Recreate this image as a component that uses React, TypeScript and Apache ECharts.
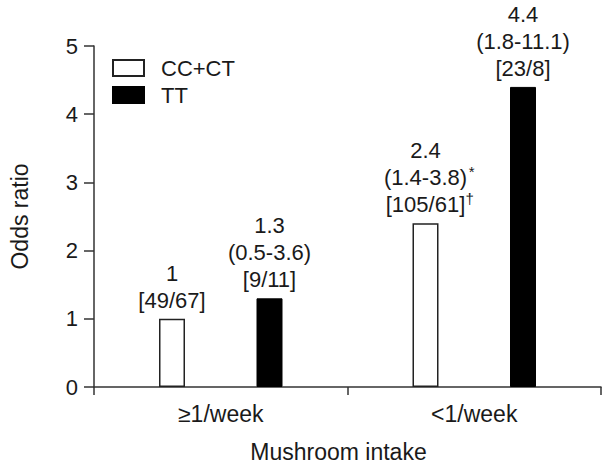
import React, { useEffect, useRef } from "react";
import * as echarts from "echarts";

// Mushroom intake categories and genotype groups
const categories = ["≥1/week", "<1/week"];
const seriesNames = ["CC+CT", "TT"];

// Odds ratios per genotype, one value per intake category
const oddsCCCT = [1, 2.4];
const oddsTT = [1.3, 4.4];

// 95% confidence intervals ("" for the reference group)
const ciCCCT = ["", "1.4-3.8"];
const ciTT = ["0.5-3.6", "1.8-11.1"];

// Case/control counts
const countsCCCT = ["49/67", "105/61"];
const countsTT = ["9/11", "23/8"];

// Footnote marks attached to the CI line and to the counts line
const ciMarkCCCT = ["", "*"];
const countMarkCCCT = ["", "†"];

const FONT = "'Liberation Sans', Arial, Helvetica, sans-serif";

function buildLabel(value: number, ci: string, count: string, ciMark = "", countMark = "") {
  const lines: string[] = [];
  lines.push(`{v|${value}}`);
  if (ci) {
    lines.push(ciMark ? `{pad| }{v|(${ci})}{sup|${ciMark}}` : `{v|(${ci})}`);
  }
  lines.push(countMark ? `{pad| }{v|[${count}]}{sup|${countMark}}` : `{v|[${count}]}`);
  return lines.join("\n");
}

export default function App() {
  const ref = useRef<HTMLDivElement>(null);

  useEffect(() => {
    if (!ref.current) return;
    const chart = echarts.init(ref.current, undefined, { renderer: "svg" });

    const rich = {
      v: { fontSize: 22, lineHeight: 27, color: "#1a1a1a", fontFamily: FONT },
      sup: {
        fontSize: 15,
        lineHeight: 27,
        color: "#1a1a1a",
        fontFamily: FONT,
        verticalAlign: "top",
        padding: [0, 0, 12, 0],
        width: 9,
      },
      pad: { width: 9, fontSize: 15, lineHeight: 27 },
    };

    chart.setOption({
      animation: false,
      backgroundColor: "#ffffff",
      textStyle: { fontFamily: FONT, color: "#1a1a1a" },
      grid: { left: 87, right: 13, top: 46, bottom: 82 },
      legend: {
        orient: "vertical",
        left: 112,
        top: 57,
        padding: 0,
        itemWidth: 31,
        itemHeight: 16,
        itemGap: 5,
        icon: "rect",
        data: seriesNames,
        textStyle: { fontSize: 22, color: "#1a1a1a", fontFamily: FONT, padding: [0, 0, 0, 12] },
      },
      xAxis: {
        type: "category",
        data: categories,
        name: "Mushroom intake",
        nameLocation: "middle",
        nameGap: 53,
        nameTextStyle: {
          fontSize: 23,
          color: "#1a1a1a",
          fontFamily: FONT,
          padding: [0, 18, 0, 0],
        },
        axisLine: { lineStyle: { color: "#333", width: 1.5 } },
        axisTick: { show: true, length: 8, lineStyle: { color: "#333", width: 1.5 } },
        axisLabel: { fontSize: 23, color: "#1a1a1a", margin: 15, fontFamily: FONT },
      },
      yAxis: {
        type: "value",
        min: 0,
        max: 5,
        interval: 1,
        name: "Odds ratio",
        nameLocation: "middle",
        nameGap: 63,
        nameTextStyle: { fontSize: 23, color: "#1a1a1a", fontFamily: FONT },
        axisLine: { show: true, lineStyle: { color: "#333", width: 1.5 } },
        axisTick: { show: true, length: 10, lineStyle: { color: "#333", width: 1.5 } },
        axisLabel: { fontSize: 22, color: "#1a1a1a", margin: 16, fontFamily: FONT },
        splitLine: { show: false },
      },
      series: [
        {
          name: seriesNames[0],
          type: "bar",
          barWidth: 26,
          barGap: "275%",
          itemStyle: { color: "#ffffff", borderColor: "#222", borderWidth: 1.5 },
          data: oddsCCCT.map((v, i) => ({
            value: v,
            label: {
              show: true,
              position: "top",
              distance: 5,
              formatter: buildLabel(v, ciCCCT[i], countsCCCT[i], ciMarkCCCT[i], countMarkCCCT[i]),
              rich,
            },
          })),
        },
        {
          name: seriesNames[1],
          type: "bar",
          barWidth: 26,
          barGap: "275%",
          itemStyle: { color: "#000000", borderColor: "#000", borderWidth: 1 },
          data: oddsTT.map((v, i) => ({
            value: v,
            label: {
              show: true,
              position: "top",
              distance: 5,
              formatter: buildLabel(v, ciTT[i], countsTT[i]),
              rich,
            },
          })),
        },
      ],
    });

    return () => chart.dispose();
  }, []);

  return (
    <div
      ref={ref}
      style={{ position: "fixed", left: 0, top: 0, width: 614, height: 469 }}
    />
  );
}
